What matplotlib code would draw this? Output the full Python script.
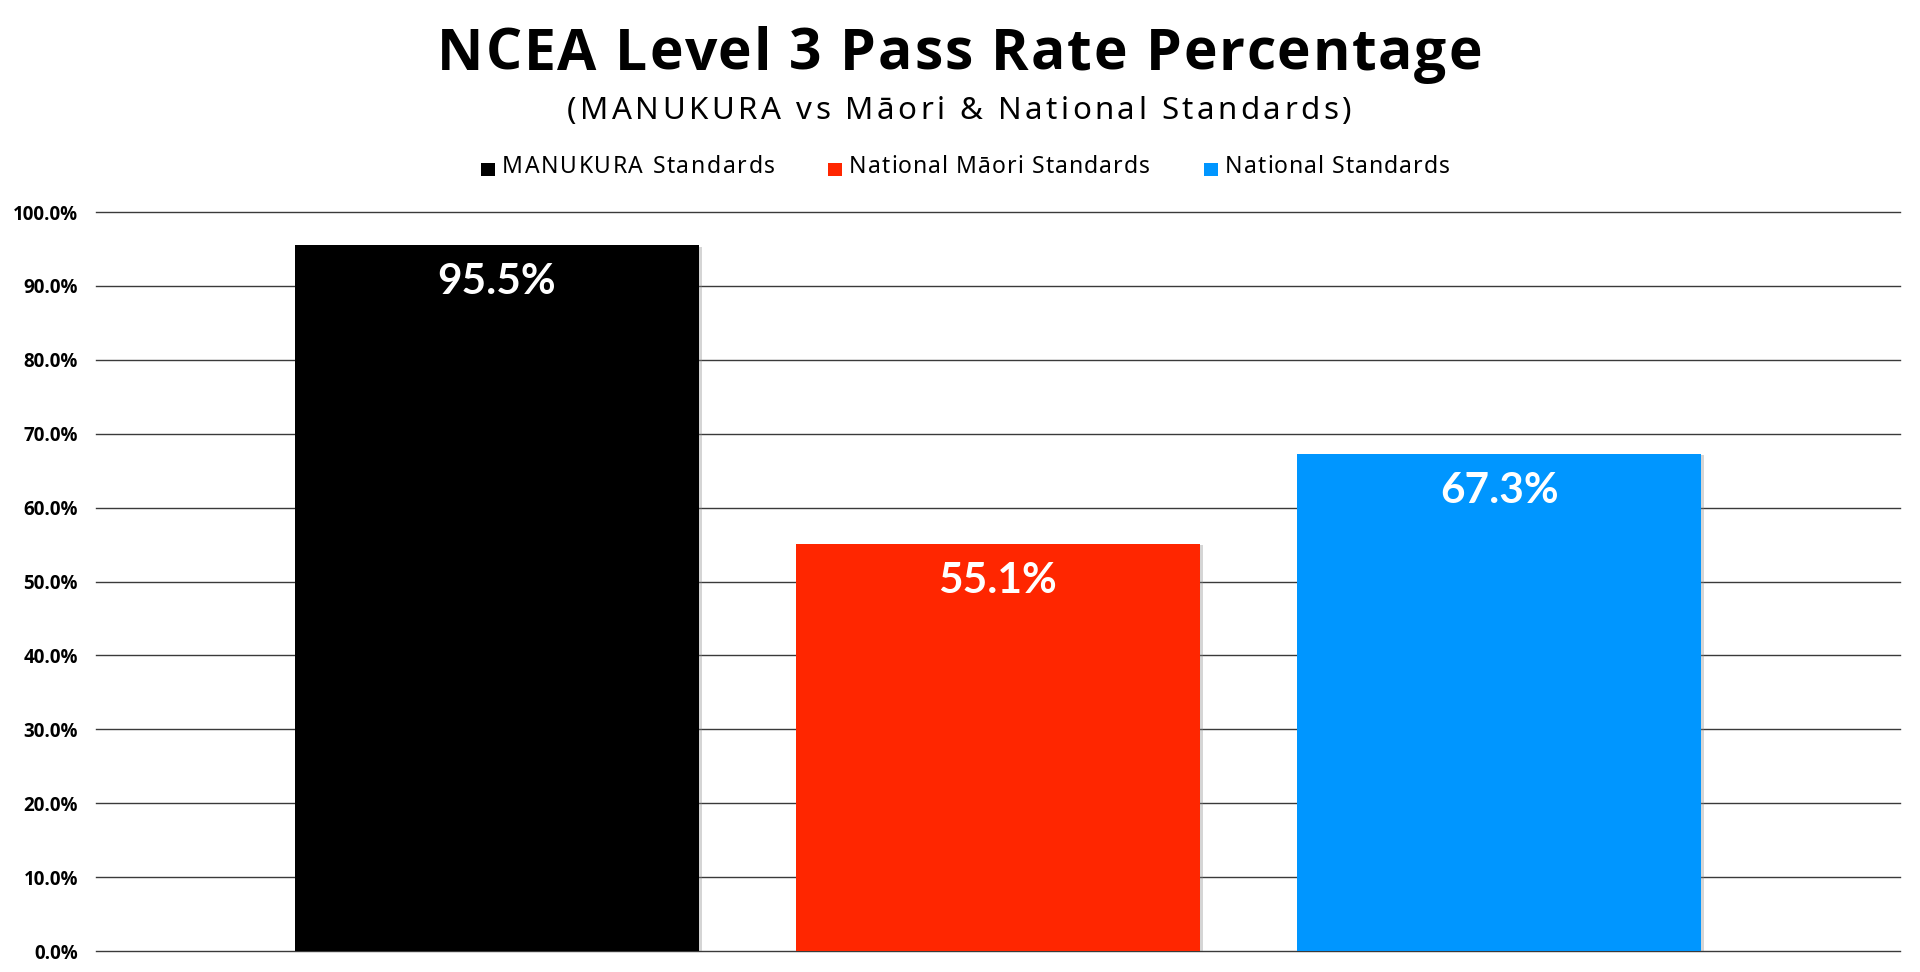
import matplotlib.pyplot as plt
import matplotlib.patheffects as pe
from matplotlib.patches import Rectangle
from matplotlib.ticker import FuncFormatter

series = ['MANUKURA Standards', 'National Māori Standards', 'National Standards']
rates = [95.5, 55.1, 67.3]
colors = ['#000000', '#FF2600', '#0096FF']
yticks = [0, 10, 20, 30, 40, 50, 60, 70, 80, 90, 100]

W, H = 1920, 972
plt.rcParams['font.family'] = ['Lato', 'DejaVu Sans']
head_font = ['Noto Sans', 'DejaVu Sans']
title_font = ['Open Sans', 'DejaVu Sans']

fig = plt.figure(figsize=(W / 100, H / 100), dpi=100)
ax = fig.add_axes([96 / W, 1 - 951 / H, (1900 - 96) / W, (951 - 212) / H])
rend = fig.canvas.get_renderer()


def text_w(s, **kw):
    t = fig.text(0, 0, s, **kw)
    w = t.get_window_extent(rend).width
    t.remove()
    return w


def spaced_text(left, right, base, s, **kw):
    # letter-spaced text stretched between two pixel x positions
    bar = text_w('|', **kw)
    sp = (right - left - text_w(s, **kw)) / (len(s) - 1)
    for i, ch in enumerate(s):
        if ch == ' ':
            continue
        off = text_w(s[:i] + '|', **kw) - bar if i else 0
        fig.text((left + off + i * sp) / W, 1 - base / H, ch, ha='left', va='baseline', **kw)


ax.set_axisbelow(True)
ax.yaxis.grid(True, color='#3a3a3a', linewidth=1.0)
xs = list(range(len(rates)))
bars = ax.bar(xs, rates, width=0.806, color=colors, zorder=2)
for b in bars:
    b.set_path_effects([pe.SimplePatchShadow(offset=(2, -1), shadow_rgbFace='#888888', alpha=0.35), pe.Normal()])

for x, v in zip(xs, rates):
    ax.annotate(f'{v:.1f}%', xy=(x, v), xytext=(0, -13), textcoords='offset points',
                ha='center', va='top', color='white', fontsize=30.5, fontweight='bold')

ax.set_xlim(-0.8, 2.8)
ax.set_ylim(0, 100)
ax.set_yticks(yticks)
ax.yaxis.set_major_formatter(FuncFormatter(lambda v, p: f'{v:.1f}%'))
ax.tick_params(axis='y', length=0, pad=13, labelsize=13.5)
for t in ax.get_yticklabels():
    t.set_fontweight('bold')
    t.set_family(['Open Sans', 'DejaVu Sans'])
for gl in ax.get_ygridlines():
    gl.set_clip_on(False)
ax.set_xticks([])
for s in ax.spines.values():
    s.set_visible(False)

spaced_text(437, 1482, 70, 'NCEA Level 3 Pass Rate Percentage', fontsize=41, fontweight='bold',
            family=title_font)
spaced_text(567, 1351, 119, '(MANUKURA vs Māori & National Standards)', fontsize=22.5, family=head_font)

leg_left = [481, 828, 1204]
leg_right = [775, 1150, 1450]
for name, c, l, r in zip(series, colors, leg_left, leg_right):
    fig.add_artist(Rectangle((l / W, 1 - 176 / H), 14 / W, 13 / H, transform=fig.transFigure,
                             facecolor=c, edgecolor='none'))
    spaced_text(l + 21, r, 173, name, fontsize=16.5, family=head_font)

fig.savefig('out.png', dpi=100)
